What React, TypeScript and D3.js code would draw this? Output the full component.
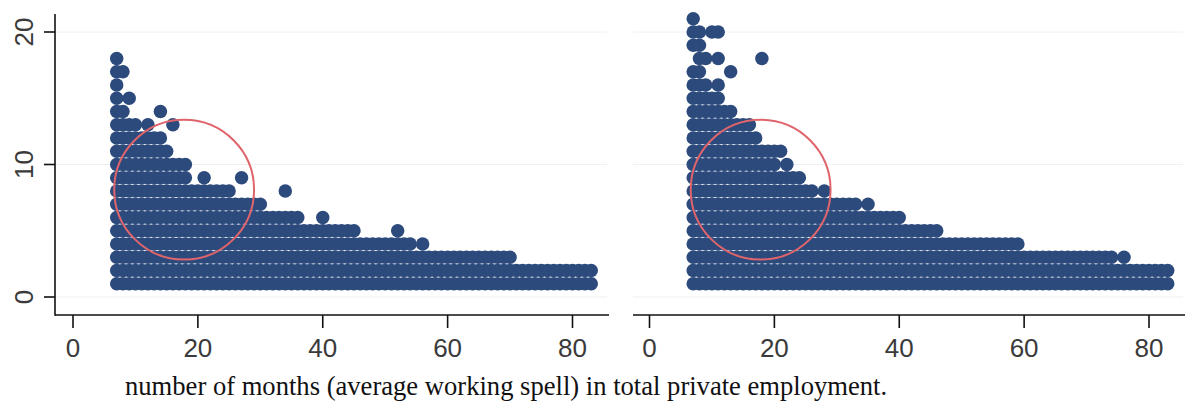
import React from "react";
import * as d3 from "d3";

// Each run is [spell count, first month, last month]: a dot at every month in between.
const leftRuns: [number, number, number][] = [
  [1, 7, 83], [2, 7, 83], [3, 7, 70], [4, 7, 54], [5, 7, 45], [6, 7, 36],
  [7, 7, 30], [8, 7, 25], [9, 7, 18], [10, 7, 18], [11, 7, 15], [12, 7, 14],
  [13, 7, 10], [14, 7, 8], [15, 7, 7], [16, 7, 7], [17, 7, 8], [18, 7, 7],
];
// Isolated observations: [spell count, month]
const leftSingles: [number, number][] = [
  [4, 56], [5, 52], [6, 40], [8, 34], [9, 21], [9, 27],
  [13, 12], [13, 16], [14, 14], [15, 9],
];

const rightRuns: [number, number, number][] = [
  [1, 7, 83], [2, 7, 83], [3, 7, 74], [4, 7, 59], [5, 7, 46], [6, 7, 40],
  [7, 7, 33], [8, 7, 26], [9, 7, 24], [10, 7, 20], [11, 7, 21], [12, 7, 17],
  [13, 7, 16], [14, 7, 13], [15, 7, 11], [16, 7, 9], [17, 7, 8], [18, 8, 9],
  [19, 7, 8], [20, 7, 8], [21, 7, 7],
];
const rightSingles: [number, number][] = [
  [3, 76], [7, 35], [8, 28], [10, 22], [16, 11], [17, 13],
  [18, 11], [18, 18], [20, 10], [20, 11],
];

const xTicks = [0, 20, 40, 60, 80];
const yTicks = [0, 10, 20];
// Highlight circle: centre (months, spells) and radius in months
const highlight = { x: 17.8, y: 8.1, r: 11.2 };
const caption = "number of months (average working spell) in total private employment.";

const DOT = "#2c4a7c";
const RED = "#e0646c";

type Pt = { x: number; y: number };

function expand(runs: [number, number, number][], singles: [number, number][]): Pt[] {
  const pts: Pt[] = [];
  runs.forEach(([y, a, b]) => d3.range(a, b + 1).forEach((x) => pts.push({ x, y })));
  singles.forEach(([y, x]) => pts.push({ x, y }));
  return pts;
}

const yScale = d3.scaleLinear().domain([0, 20]).range([297, 32]);

function Panel({
  pts, x0, axisFrom, axisTo,
}: { pts: Pt[]; x0: number; axisFrom: number; axisTo: number }) {
  const xScale = d3.scaleLinear().domain([0, 80]).range([x0, x0 + 499.5]);
  const rPx = xScale(highlight.r) - xScale(0);
  return (
    <g>
      {yTicks.map((t) => (
        <line key={t} x1={axisFrom} x2={axisTo - 2} y1={yScale(t)} y2={yScale(t)}
          stroke="#f0f0f0" strokeWidth={1} />
      ))}
      {pts.map((p, i) => (
        <circle key={i} cx={xScale(p.x)} cy={yScale(p.y)} r={6.75} fill={DOT} />
      ))}
      <circle cx={xScale(highlight.x)} cy={yScale(highlight.y)} r={rPx}
        fill="none" stroke={RED} strokeWidth={2} />
      <line x1={axisFrom} x2={axisTo} y1={315} y2={315} stroke="#111" strokeWidth={1.6} />
      {xTicks.map((t) => (
        <g key={t}>
          <line x1={xScale(t)} x2={xScale(t)} y1={315} y2={328} stroke="#111" strokeWidth={1.6} />
          <text x={xScale(t)} y={357} textAnchor="middle" fontSize={26}
            fontFamily="'Liberation Sans', Arial, sans-serif" fill="#3a3a3a">{t}</text>
        </g>
      ))}
    </g>
  );
}

export default function App() {
  const left = expand(leftRuns, leftSingles);
  const right = expand(rightRuns, rightSingles);
  return (
    <svg width={1185} height={403} style={{ position: "absolute", left: 0, top: 0 }}>
      <rect width={1185} height={403} fill="#fff" />
      <Panel pts={left} x0={73} axisFrom={55} axisTo={609} />
      <Panel pts={right} x0={649.5} axisFrom={633} axisTo={1185} />
      <line x1={55} x2={55} y1={14} y2={315.8} stroke="#111" strokeWidth={1.6} />
      {yTicks.map((t) => (
        <g key={t}>
          <line x1={44} x2={55} y1={yScale(t)} y2={yScale(t)} stroke="#111" strokeWidth={1.6} />
          <text transform={`translate(33,${yScale(t)}) rotate(-90)`} textAnchor="middle"
            fontSize={26} fontFamily="'Liberation Sans', Arial, sans-serif" fill="#3a3a3a">{t}</text>
        </g>
      ))}
      <text x={125} y={395} fontSize={26.6} fontFamily="'Liberation Serif', 'Times New Roman', serif"
        fill="#111">{caption}</text>
    </svg>
  );
}
